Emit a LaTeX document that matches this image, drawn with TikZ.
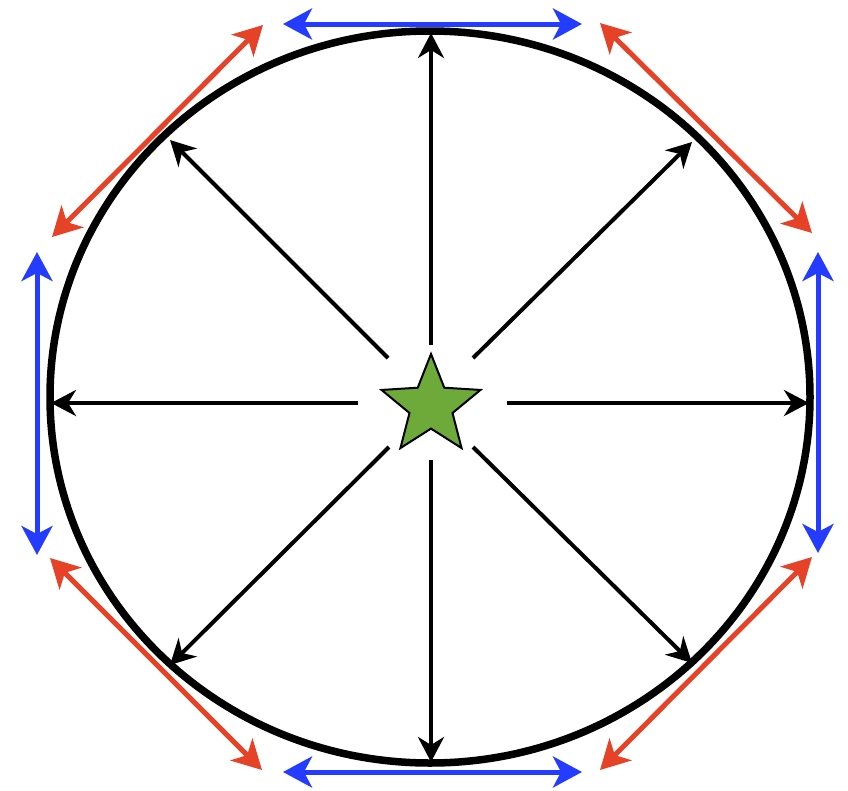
\documentclass[tikz,border=0pt]{standalone}
\usetikzlibrary{arrows.meta,shapes.geometric}
\definecolor{rimred}{RGB}{230,66,40}
\definecolor{rimblue}{RGB}{36,60,255}
\definecolor{stargreen}{RGB}{110,170,58}
\begin{document}
\begin{tikzpicture}[x=1pt,y=-1pt,
  spoke/.style={line width=4pt,-{Stealth[length=25pt,width=26pt,inset=8pt]}},
  twohead/.style={line width=5pt,{Stealth[length=29pt,width=31pt,inset=8pt]}-{Stealth[length=29pt,width=31pt,inset=8pt]}},
  redarrow/.style={twohead,draw=rimred,fill=rimred},
  bluearrow/.style={twohead,draw=rimblue,fill=rimblue}]
\useasboundingbox (0,0) rectangle (848,790);
% ring
\node[draw, ellipse, minimum width=760pt, minimum height=732pt, inner sep=0pt, line width=7.5pt] (ring) at (430,397) {};
% star
\node[star, star points=5, star point ratio=2.3, minimum size=104pt, inner sep=0pt, fill=stargreen, draw=black, line width=2pt] (s) at (431,406) {};
% spoke starts
\coordinate (sN) at (431,345);
\coordinate (sS) at (431,460);
\coordinate (sW) at (358,403);
\coordinate (sE) at (507,403);
\coordinate (sNW) at (388,358);
\coordinate (sNE) at (473,358);
\coordinate (sSW) at (389,447);
\coordinate (sSE) at (473,447);
% spoke ends on ring
\coordinate (eN) at (431,33);
\coordinate (eS) at (431,762);
\coordinate (eW) at (51,403);
\coordinate (eE) at (809,403);
\coordinate (eNW) at (170,140);
\coordinate (eNE) at (692,142);
\coordinate (eSW) at (170,665);
\coordinate (eSE) at (692,663);
\foreach \d in {N,S,W,E,NW,NE,SW,SE}{\draw[spoke] (s\d) -- (e\d);}
% tangent arrows
\coordinate (t1) at (283,24);  \coordinate (t2) at (582,24);
\coordinate (b1) at (283,772); \coordinate (b2) at (582,772);
\coordinate (l1) at (37,252);  \coordinate (l2) at (37,555);
\coordinate (r1) at (818,252); \coordinate (r2) at (818,553);
\draw[bluearrow] (t1) -- (t2);
\draw[bluearrow] (b1) -- (b2);
\draw[bluearrow] (l1) -- (l2);
\draw[bluearrow] (r1) -- (r2);
\coordinate (nw1) at (263,25);  \coordinate (nw2) at (52,237);
\coordinate (ne1) at (600,23);  \coordinate (ne2) at (812,233);
\coordinate (sw1) at (50,558);  \coordinate (sw2) at (262,770);
\coordinate (se1) at (812,557); \coordinate (se2) at (600,770);
\draw[redarrow] (nw1) -- (nw2);
\draw[redarrow] (ne1) -- (ne2);
\draw[redarrow] (sw1) -- (sw2);
\draw[redarrow] (se1) -- (se2);
\end{tikzpicture}
\end{document}
